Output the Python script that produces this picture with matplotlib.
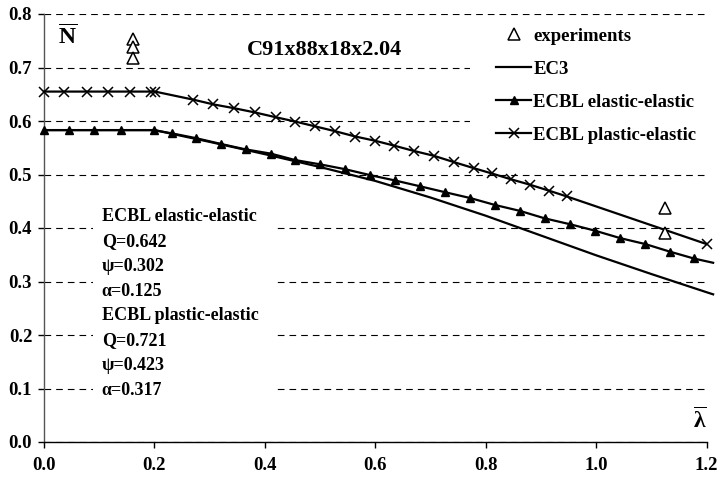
import matplotlib
matplotlib.use("Agg")
import matplotlib.pyplot as plt
from matplotlib.patches import Rectangle
from matplotlib.lines import Line2D

plt.rcParams['font.family'] = ['Liberation Serif', 'DejaVu Serif']
plt.rcParams['font.weight'] = 'bold'
plt.rcParams['mathtext.fontset'] = 'custom'
plt.rcParams['mathtext.rm'] = 'Liberation Serif:bold'
plt.rcParams['mathtext.bf'] = 'Liberation Serif:bold'
plt.rcParams['mathtext.it'] = 'Liberation Serif:bold'

# ---- data ----
exp_lambda = [0.162, 0.162, 0.162, 1.125, 1.125]
exp_N = [0.753, 0.739, 0.717, 0.437, 0.390]

ec3_lambda = [0.0, 0.2, 0.3, 0.4, 0.5, 0.6, 0.7, 0.8, 0.9, 1.0, 1.1, 1.2, 1.212]
ec3_N = [0.583, 0.583, 0.561, 0.538, 0.514, 0.488, 0.457, 0.423, 0.386, 0.349, 0.314, 0.280, 0.276]

ee_lambda = [0.0, 0.046, 0.091, 0.139, 0.199, 0.231, 0.275, 0.321, 0.365, 0.411,
             0.455, 0.500, 0.545, 0.590, 0.635, 0.681, 0.726, 0.772, 0.817, 0.862,
             0.907, 0.953, 0.998, 1.044, 1.089, 1.133, 1.177, 1.212]
ee_N = [0.583, 0.583, 0.583, 0.583, 0.583, 0.577, 0.568, 0.557, 0.547, 0.539,
        0.527, 0.519, 0.510, 0.499, 0.489, 0.478, 0.467, 0.456, 0.443, 0.432,
        0.418, 0.407, 0.395, 0.381, 0.370, 0.356, 0.343, 0.335]
ee_markevery = list(range(27))

pe_lambda = [0.0, 0.037, 0.077, 0.116, 0.155, 0.194, 0.201, 0.270, 0.307, 0.344,
             0.382, 0.420, 0.455, 0.491, 0.527, 0.564, 0.600, 0.634, 0.670, 0.706,
             0.743, 0.778, 0.811, 0.846, 0.880, 0.914, 0.947, 1.200]
pe_N = [0.655, 0.655, 0.655, 0.655, 0.655, 0.655, 0.655, 0.640, 0.631, 0.624,
        0.616, 0.607, 0.599, 0.590, 0.581, 0.571, 0.563, 0.554, 0.544, 0.535,
        0.523, 0.512, 0.502, 0.491, 0.481, 0.470, 0.459, 0.370]

x_ticks = [0.0, 0.2, 0.4, 0.6, 0.8, 1.0, 1.2]
y_ticks = [0.0, 0.1, 0.2, 0.3, 0.4, 0.5, 0.6, 0.7, 0.8]

title_text = "C91x88x18x2.04"
info_lines = ["ECBL elastic-elastic", "Q=0.642", "ψ=0.302", "α=0.125",
              "ECBL plastic-elastic", "Q=0.721", "ψ=0.423", "α=0.317"]

# ---- figure ----
fig = plt.figure(figsize=(7.21, 4.83), dpi=100)
ax = fig.add_axes([44/721, 41/483, 662.5/721, 428/483])
ax.set_xlim(0, 1.2)
ax.set_ylim(0, 0.8)
ax.set_axisbelow(True)

ax.yaxis.grid(True, color='black', lw=0.8, linestyle=(0, (6, 4.5)))
ax.xaxis.grid(False)

for s in ['top', 'right']:
    ax.spines[s].set_visible(False)
ax.spines['left'].set_color('#555555')
ax.spines['left'].set_linewidth(1.0)
ax.spines['bottom'].set_linewidth(1.0)

ax.set_xticks(x_ticks)
ax.set_yticks(y_ticks)
ax.set_xticklabels([f"{v:.1f}" for v in x_ticks])
ax.set_yticklabels([f"{v:.1f}" for v in y_ticks])
ax.tick_params(axis='x', direction='out', length=4.5, width=1, pad=6, labelsize=13.5)
ax.tick_params(axis='y', direction='out', length=4.5, width=1, pad=4, labelsize=13.5)

# white background boxes (legend and annotation text)
ax.add_patch(Rectangle((0.643, 0.682), 0.36, 0.303, transform=ax.transAxes,
                       facecolor='white', edgecolor='none', zorder=1))
ax.add_patch(Rectangle((0.074, 0.098), 0.278, 0.49, transform=ax.transAxes,
                       facecolor='white', edgecolor='none', zorder=1))

ax.plot(ec3_lambda, ec3_N, color='black', lw=1.6, zorder=3, clip_on=False, label='EC3')
ax.plot(ee_lambda, ee_N, color='black', lw=1.6, marker='^', ms=5.5, markevery=ee_markevery,
        zorder=3, clip_on=False, label='ECBL elastic-elastic')
ax.plot(pe_lambda, pe_N, color='black', lw=1.6, marker='x', ms=7, mew=1.1,
        zorder=3, clip_on=False, label='ECBL plastic-elastic')
ax.plot(exp_lambda, exp_N, linestyle='none', marker='^', ms=8, mfc='white', mec='black',
        mew=1.1, zorder=4, clip_on=False, label='experiments')

handles = [
    Line2D([], [], linestyle='none', marker='^', ms=8, mfc='white', mec='black', mew=1.1),
    Line2D([], [], color='black', lw=1.6),
    Line2D([], [], color='black', lw=1.6, marker='^', ms=5.5),
    Line2D([], [], color='black', lw=1.6, marker='x', ms=7, mew=1.1),
]
labels = ['experiments', 'EC3', 'ECBL elastic-elastic', 'ECBL plastic-elastic']
leg = ax.legend(handles, labels, loc='upper left', bbox_to_anchor=(0.683, 0.968),
                frameon=False, fontsize=13.5, handlelength=1.85, handletextpad=0.12,
                labelspacing=0.85, numpoints=1, borderaxespad=0, borderpad=0)
leg.set_zorder(5)

ax.text(0.424, 0.915, title_text, transform=ax.transAxes, ha='center', va='center',
        fontsize=16, fontweight='bold')

y0 = 0.526
dy = 0.0579
for i, line in enumerate(info_lines):
    ax.text(0.087, y0 - i*dy, line, transform=ax.transAxes, ha='left', va='center',
            fontsize=13, fontweight='bold', zorder=6)

ax.text(0.035, 0.945, r'$\overline{\mathrm{N}}$', transform=ax.transAxes,
        ha='center', va='center', fontsize=17)
ax.text(0.99, 0.05, r'$\overline{\lambda}$', transform=ax.transAxes,
        ha='center', va='center', fontsize=17)

fig.savefig('out.png', dpi=100)
